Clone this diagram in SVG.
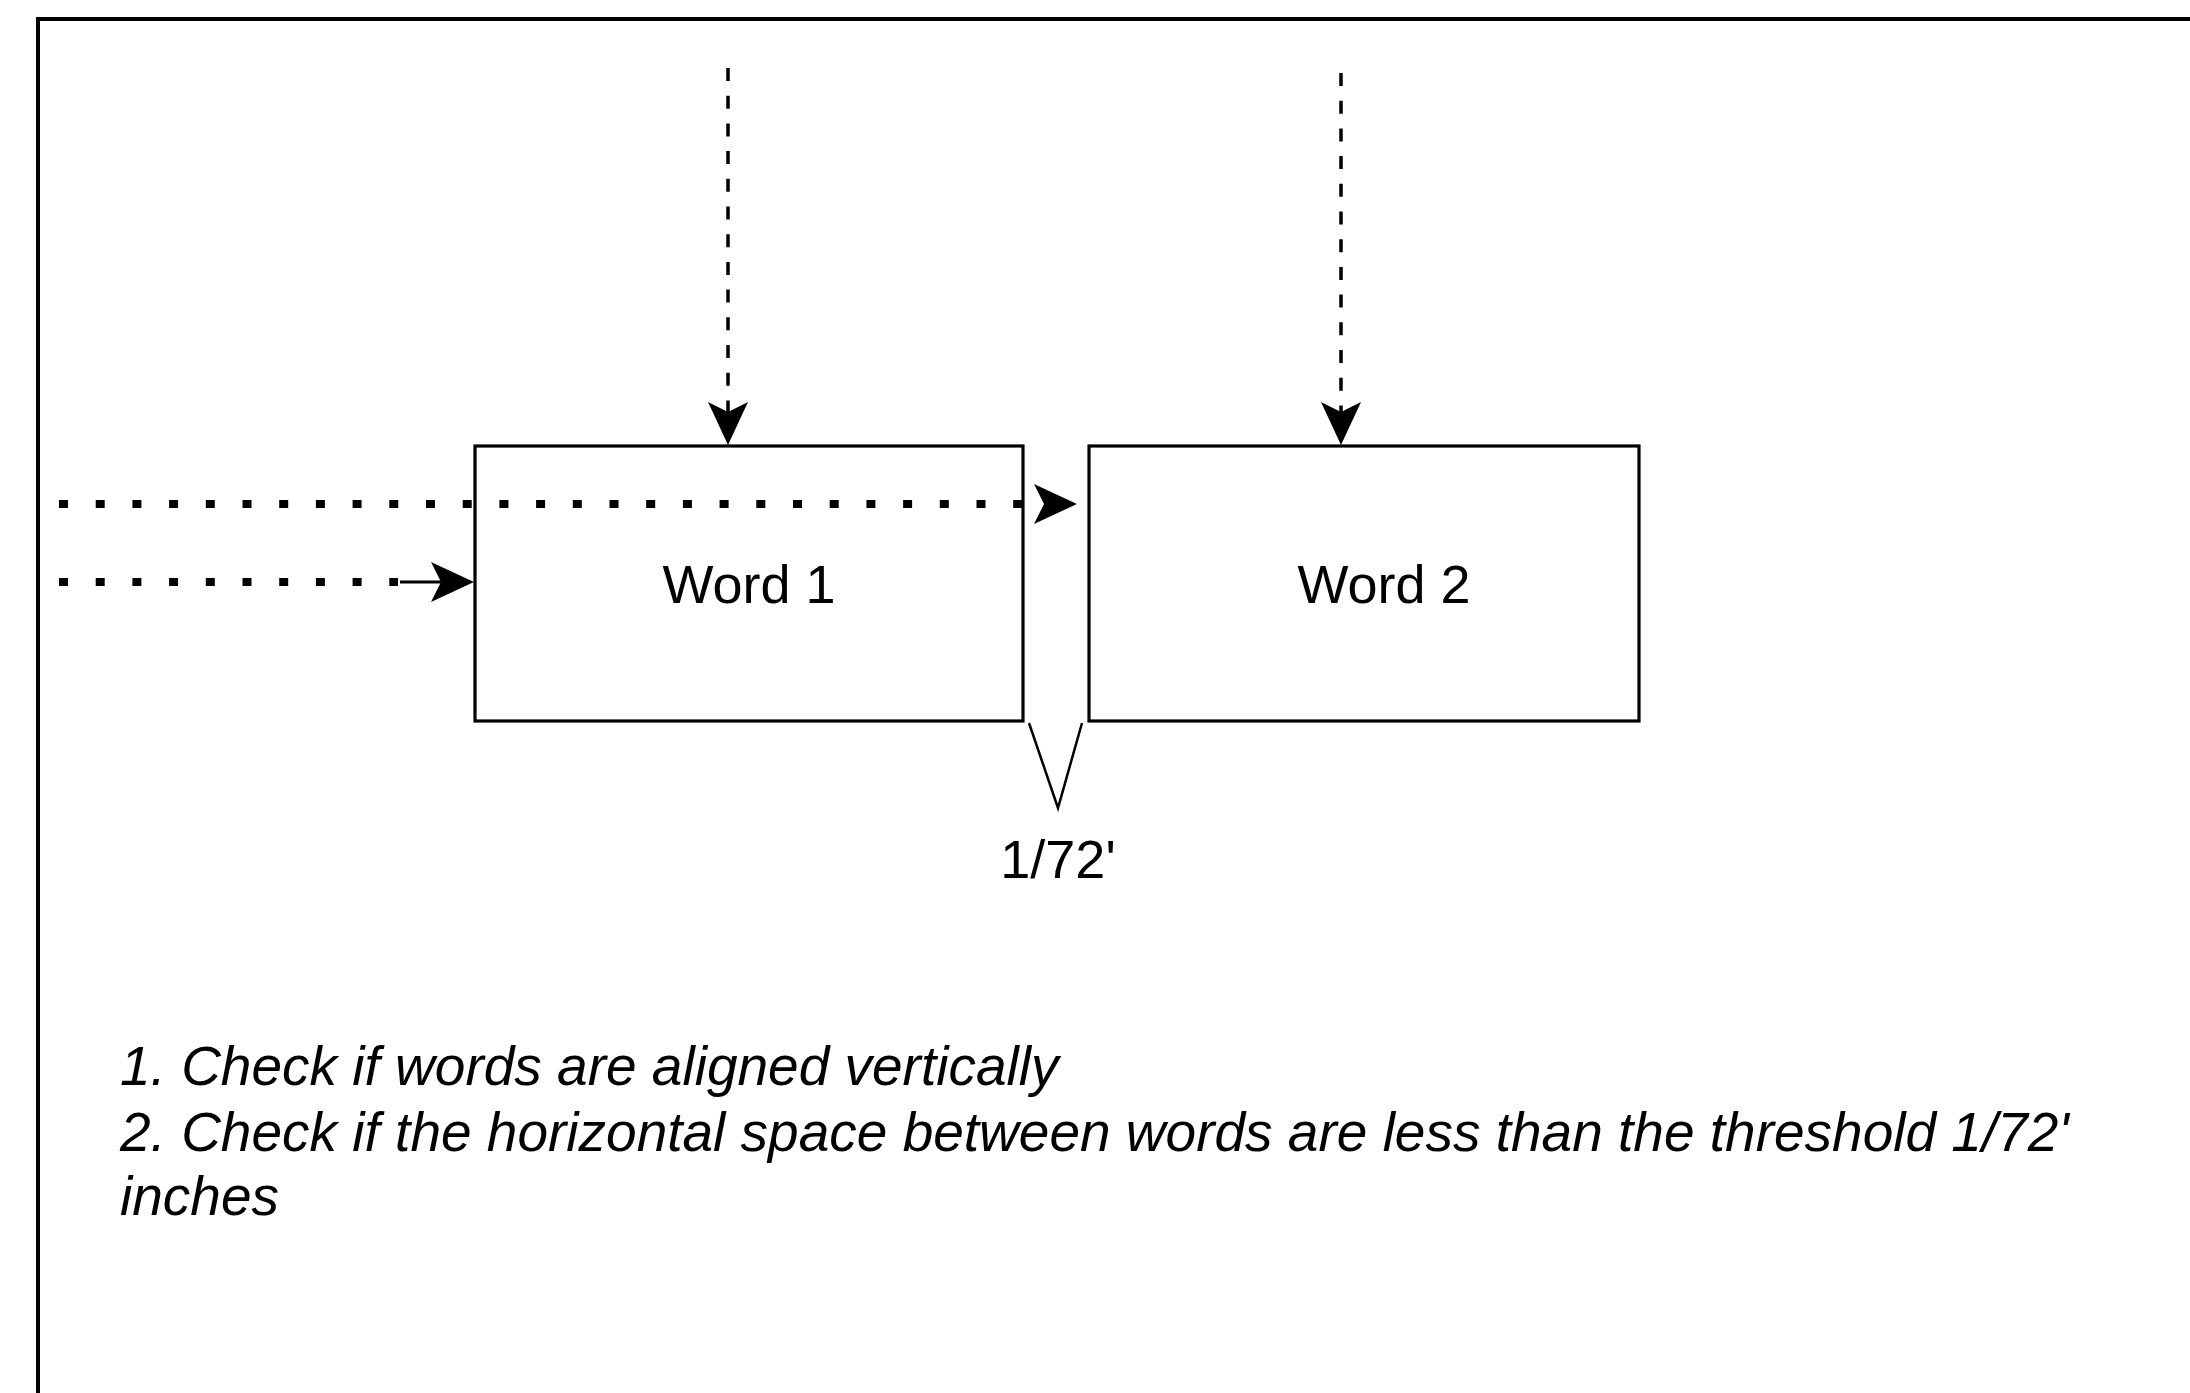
<svg xmlns="http://www.w3.org/2000/svg" width="2190" height="1393" viewBox="0 0 2190 1393">
  <style>
    .frame { fill: #ffffff; stroke: #000000; stroke-width: 4; }
    .box { fill: #ffffff; stroke: #000000; stroke-width: 3.2; }
    .lbl { font-family: "Liberation Sans", Arial, Helvetica, sans-serif; font-size: 54px; fill: #000000; text-anchor: middle; }
    .note { font-family: "Liberation Sans", Arial, Helvetica, sans-serif; font-size: 55px; font-style: italic; fill: #000000; }
    .dashed { fill: none; stroke: #000000; stroke-width: 3.5; stroke-dasharray: 13 14.7; }
    .dotted { fill: none; stroke: #000000; stroke-width: 8; stroke-dasharray: 9 27.7; }
    .solid { fill: none; stroke: #000000; stroke-width: 3; }
    .thin { fill: none; stroke: #000000; stroke-width: 2.5; }
  </style>
  <defs>
    <path id="ah" d="M0,0 L-43,-20 L-33,0 L-43,20 Z" fill="#000000"/>
  </defs>
  <rect width="2190" height="1393" fill="#ffffff"/>
  <g id="frame">
    <rect class="frame" x="38" y="19" width="2200" height="1420"/>
  </g>
  <g id="word1">
    <rect class="box" x="475" y="446" width="548" height="275"/>
    <text class="lbl" x="749" y="603">Word 1</text>
  </g>
  <g id="word2">
    <rect class="box" x="1089" y="446" width="550" height="275"/>
    <text class="lbl" x="1384" y="603">Word 2</text>
  </g>
  <g id="connectors">
    <line class="dashed" x1="728" y1="68" x2="728" y2="420"/>
    <use href="#ah" transform="translate(728,445) rotate(90)"/>
    <line class="dashed" x1="1341" y1="73" x2="1341" y2="420"/>
    <use href="#ah" transform="translate(1341,445) rotate(90)"/>
    <line class="dotted" x1="59" y1="504" x2="1022" y2="504"/>
    <use href="#ah" transform="translate(1077,504)"/>
    <line class="dotted" x1="59" y1="582" x2="398" y2="582"/>
    <line class="solid" x1="400" y1="582" x2="445" y2="582"/>
    <use href="#ah" transform="translate(474,582)"/>
  </g>
  <g id="gap-marker">
    <polyline class="thin" points="1029,723 1058,808 1082,723"/>
    <text class="lbl" x="1058" y="878">1/72'</text>
  </g>
  <g id="note">
    <text class="note" x="120" y="1085">1. Check if words are aligned vertically</text>
    <text class="note" x="120" y="1151">2. Check if the horizontal space between words are less than the threshold 1/72'</text>
    <text class="note" x="120" y="1215">inches</text>
  </g>
</svg>
